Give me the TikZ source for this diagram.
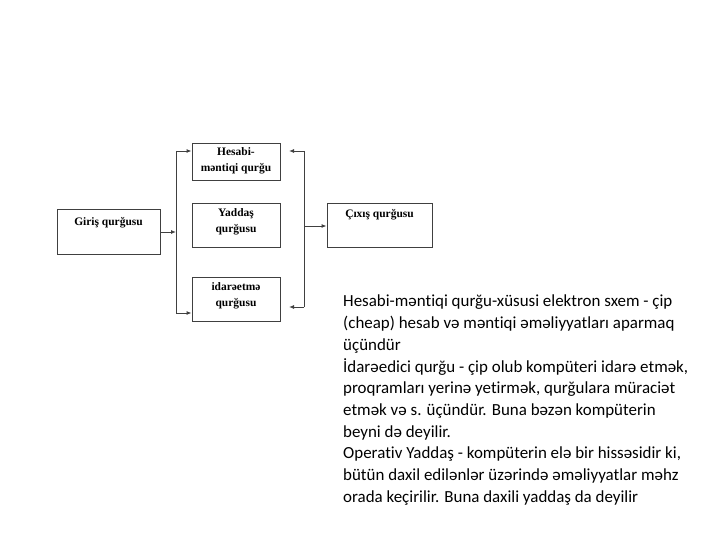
\documentclass[tikz,border=0pt]{standalone}
\usepackage{fontspec}
\setmainfont{Liberation Serif}
\newfontfamily\carl{Carlito}[Ligatures=NoCommon]
\usetikzlibrary{arrows.meta}
\tikzset{
  box/.style={draw=black!75, line width=0.9bp, inner sep=0pt},
  lbl/.style={font=\bfseries\fontsize{11.5}{16}\selectfont, align=center, inner sep=0pt},
  wire/.style={draw=black!75, line width=0.9bp},
  arr/.style={wire, -{Latex[length=5bp,width=4bp]}}
}
\begin{document}
\begin{tikzpicture}[x=1bp,y=-1bp]
\useasboundingbox (0,0) rectangle (720,540);
% boxes
\node[box, minimum width=103bp, minimum height=45bp] (g) at (108.5,231.5) {};
\node[box, minimum width=88bp, minimum height=37bp] (h) at (236,161.5) {};
\node[box, minimum width=88bp, minimum height=44bp] (y) at (236,225) {};
\node[box, minimum width=88bp, minimum height=44bp] (i) at (236,299) {};
\node[box, minimum width=105bp, minimum height=44bp] (c) at (379.5,225) {};
% labels
\node[lbl] (gt) at (108.5,223) {Giriş qurğusu};
\node[lbl] (ht) at (236,161) {Hesabi-\\məntiqi qurğu};
\node[lbl] (yt) at (236,221.5) {Yaddaş\\qurğusu};
\node[lbl] (it) at (236,295.5) {idarəetmə\\qurğusu};
\node[lbl] (ct) at (379.5,215) {Çıxış qurğusu};
% left bus
\coordinate (lm) at (176,232);
\coordinate (ltop) at (176,151);
\coordinate (lbot) at (176,313);
\draw[wire] (ltop) -- (lbot);
\draw[arr] (g.east |- lm) -- (lm);
\draw[arr] (ltop) -- (h.west |- ltop);
\draw[arr] (lbot) -- (i.west |- lbot);
% right bus
\coordinate (rtop) at (304,151);
\coordinate (rbot) at (304,307);
\coordinate (rm) at (304,226);
\coordinate (htip) at (289,151);
\coordinate (itip) at (289,307);
\draw[wire] (rtop) -- (rbot);
\draw[arr] (rtop) -- (htip);
\draw[arr] (rbot) -- (itip);
\draw[arr] (rm) -- (c.west |- rm);
% text
\node[anchor=north west, align=left, inner sep=0pt, font=\carl\fontsize{17}{21.8}\selectfont] (txt) at (343,295) {%
Hesabi-məntiqi qurğu-xüsusi elektron sxem - çip\\
(cheap) hesab və məntiqi əməliyyatları aparmaq\\
üçündür\\
İdarəedici qurğu - çip olub kompüteri idarə etmək,\\
proqramları yerinə yetirmək, qurğulara müraciət\\
etmək və s. üçündür. Buna bəzən kompüterin\\
beyni də deyilir.\\
Operativ Yaddaş - kompüterin elə bir hissəsidir ki,\\
bütün daxil edilənlər üzərində əməliyyatlar məhz\\
orada keçirilir. Buna daxili yaddaş da deyilir};
\end{tikzpicture}
\end{document}
